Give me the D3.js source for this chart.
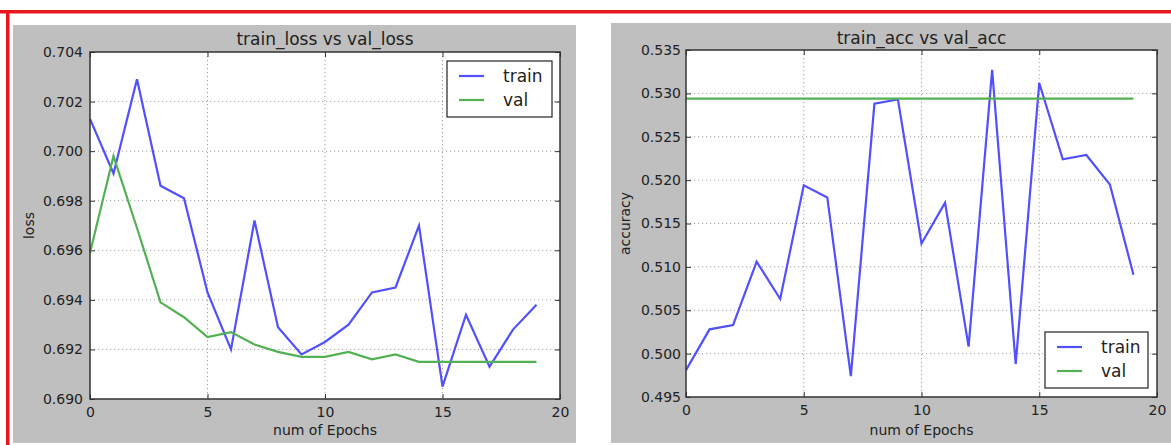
<!DOCTYPE html>
<html>
<head>
<meta charset="utf-8">
<script src="https://cdn.jsdelivr.net/npm/d3@7"></script>
<style>
  html, body { margin: 0; padding: 0; background: #ffffff; }
  svg { display: block; }
  text { font-family: "DejaVu Sans", sans-serif; fill: #222; }
</style>
</head>
<body>
<svg id="chart" width="1171" height="445"></svg>
<script>
// Training history, one value per epoch
const epochs = d3.range(20);

const trainLoss = [0.7013, 0.6991, 0.7029, 0.6986, 0.6981, 0.6943, 0.6920, 0.6972, 0.6929, 0.6918,
                   0.6923, 0.6930, 0.6943, 0.6945, 0.6970, 0.6905, 0.6934, 0.6913, 0.6928, 0.6938];
const valLoss   = [0.6959, 0.6998, 0.6969, 0.6939, 0.6933, 0.6925, 0.6927, 0.6922, 0.6919, 0.6917,
                   0.6917, 0.6919, 0.6916, 0.6918, 0.6915, 0.6915, 0.6915, 0.6915, 0.6915, 0.6915];

const trainAcc  = [0.4981, 0.5028, 0.5033, 0.5106, 0.5063, 0.5194, 0.5180, 0.4974, 0.5288, 0.5293,
                   0.5127, 0.5174, 0.5008, 0.5327, 0.4988, 0.5312, 0.5224, 0.5229, 0.5195, 0.5091];
const valAcc    = [0.5294, 0.5294, 0.5294, 0.5294, 0.5294, 0.5294, 0.5294, 0.5294, 0.5294, 0.5294,
                   0.5294, 0.5294, 0.5294, 0.5294, 0.5294, 0.5294, 0.5294, 0.5294, 0.5294, 0.5294];

const xTicks      = [0, 5, 10, 15, 20];
const lossTicks   = [0.690, 0.692, 0.694, 0.696, 0.698, 0.700, 0.702, 0.704];
const accTicks    = [0.495, 0.500, 0.505, 0.510, 0.515, 0.520, 0.525, 0.530, 0.535];
const seriesNames = ["train", "val"];

const TRAIN_COLOR = "#5050ff";
const VAL_COLOR   = "#52b152";

const svg = d3.select("#chart");

// frame around the figure pair
svg.append("rect").attr("x", 0).attr("y", 10).attr("width", 1171).attr("height", 3.5).attr("fill", "#e8161e");
svg.append("rect").attr("x", 6).attr("y", 10).attr("width", 3.5).attr("height", 435).attr("fill", "#e8161e");

const panels = [
  {
    bg: { x: 13, y: 25, w: 563, h: 418 },
    box: { l: 90, t: 52, r: 560, b: 399 },
    title: "train_loss vs val_loss", titleY: 45,
    ylabel: "loss", ylabelX: 34,
    yDomain: [0.690, 0.704], yTicks: lossTicks,
    train: trainLoss, val: valLoss, labelPad: 7,
    legend: { x: 447, y: 61, w: 105, h: 56 }
  },
  {
    bg: { x: 611, y: 23, w: 560, h: 420 },
    box: { l: 686, t: 50, r: 1157, b: 397 },
    title: "train_acc vs val_acc", titleY: 44,
    ylabel: "accuracy", ylabelX: 630,
    yDomain: [0.495, 0.535], yTicks: accTicks,
    train: trainAcc, val: valAcc, labelPad: 5,
    legend: { x: 1045, y: 332, w: 103, h: 56 }
  }
];

panels.forEach(p => {
  const { l, t, r, b } = p.box;
  const x = d3.scaleLinear().domain([0, 20]).range([l, r]);
  const y = d3.scaleLinear().domain(p.yDomain).range([b, t]);

  svg.append("rect").attr("x", p.bg.x).attr("y", p.bg.y).attr("width", p.bg.w).attr("height", p.bg.h)
     .attr("fill", "#bfbfbf");
  svg.append("rect").attr("x", l).attr("y", t).attr("width", r - l).attr("height", b - t).attr("fill", "#ffffff");

  // dotted grid
  const grid = svg.append("g").attr("stroke", "#a0a0a0").attr("stroke-width", 1)
                  .attr("stroke-dasharray", "1.2,2.8");
  grid.selectAll(".gx").data(xTicks.slice(1, -1)).join("line")
      .attr("x1", d => x(d)).attr("x2", d => x(d)).attr("y1", t).attr("y2", b);
  grid.selectAll(".gy").data(p.yTicks.slice(1, -1)).join("line")
      .attr("x1", l).attr("x2", r).attr("y1", d => y(d)).attr("y2", d => y(d));

  // axes with inward ticks on all four sides
  const fmtY = d3.format(".3f");
  const bottom = svg.append("g").attr("transform", `translate(0,${b})`)
      .call(d3.axisBottom(x).tickValues(xTicks).tickSize(-5).tickPadding(8).tickFormat(d3.format("d")));
  const left = svg.append("g").attr("transform", `translate(${l},0)`)
      .call(d3.axisLeft(y).tickValues(p.yTicks).tickSize(-5).tickPadding(p.labelPad).tickFormat(fmtY));
  const top = svg.append("g").attr("transform", `translate(0,${t})`)
      .call(d3.axisTop(x).tickValues(xTicks).tickSize(-5).tickFormat(""));
  const right = svg.append("g").attr("transform", `translate(${r},0)`)
      .call(d3.axisRight(y).tickValues(p.yTicks).tickSize(-5).tickFormat(""));
  [bottom, left, top, right].forEach(g => {
    g.select(".domain").remove();
    g.selectAll(".tick line").attr("stroke", "#333").attr("stroke-width", 1);
    g.selectAll(".tick text").attr("font-size", 14).attr("fill", "#222")
     .attr("font-family", "DejaVu Sans, sans-serif");
  });

  // series lines
  const line = data => d3.line().x((d, i) => x(epochs[i])).y(d => y(d))(data);
  svg.append("path").attr("d", line(p.train)).attr("fill", "none")
     .attr("stroke", TRAIN_COLOR).attr("stroke-width", 2.2).attr("stroke-linejoin", "miter");
  svg.append("path").attr("d", line(p.val)).attr("fill", "none")
     .attr("stroke", VAL_COLOR).attr("stroke-width", 2.2).attr("stroke-linejoin", "miter");

  // frame
  svg.append("rect").attr("x", l).attr("y", t).attr("width", r - l).attr("height", b - t)
     .attr("fill", "none").attr("stroke", "#333").attr("stroke-width", 1.5);

  // texts
  svg.append("text").attr("x", (l + r) / 2).attr("y", p.titleY).attr("text-anchor", "middle")
     .attr("font-size", 17).text(p.title);
  svg.append("text").attr("x", (l + r) / 2).attr("y", 435).attr("text-anchor", "middle")
     .attr("font-size", 14).text("num of Epochs");
  svg.append("text").attr("transform", `translate(${p.ylabelX},${(t + b) / 2}) rotate(-90)`)
     .attr("text-anchor", "middle").attr("font-size", 14).text(p.ylabel);

  // legend
  const lg = p.legend;
  const leg = svg.append("g").attr("transform", `translate(${lg.x},${lg.y})`);
  leg.append("rect").attr("width", lg.w).attr("height", lg.h).attr("fill", "#ffffff")
     .attr("stroke", "#333").attr("stroke-width", 1.3);
  const items = leg.selectAll(".item").data(seriesNames).join("g")
     .attr("transform", (d, i) => `translate(0,${15 + i * 24})`);
  items.append("line").attr("x1", 12).attr("x2", 37).attr("y1", 0).attr("y2", 0)
     .attr("stroke", (d, i) => i === 0 ? TRAIN_COLOR : VAL_COLOR).attr("stroke-width", 2.2);
  items.append("text").attr("x", 56).attr("y", 0).attr("dy", "0.35em").attr("font-size", 17).text(d => d);
});
</script>
</body>
</html>
